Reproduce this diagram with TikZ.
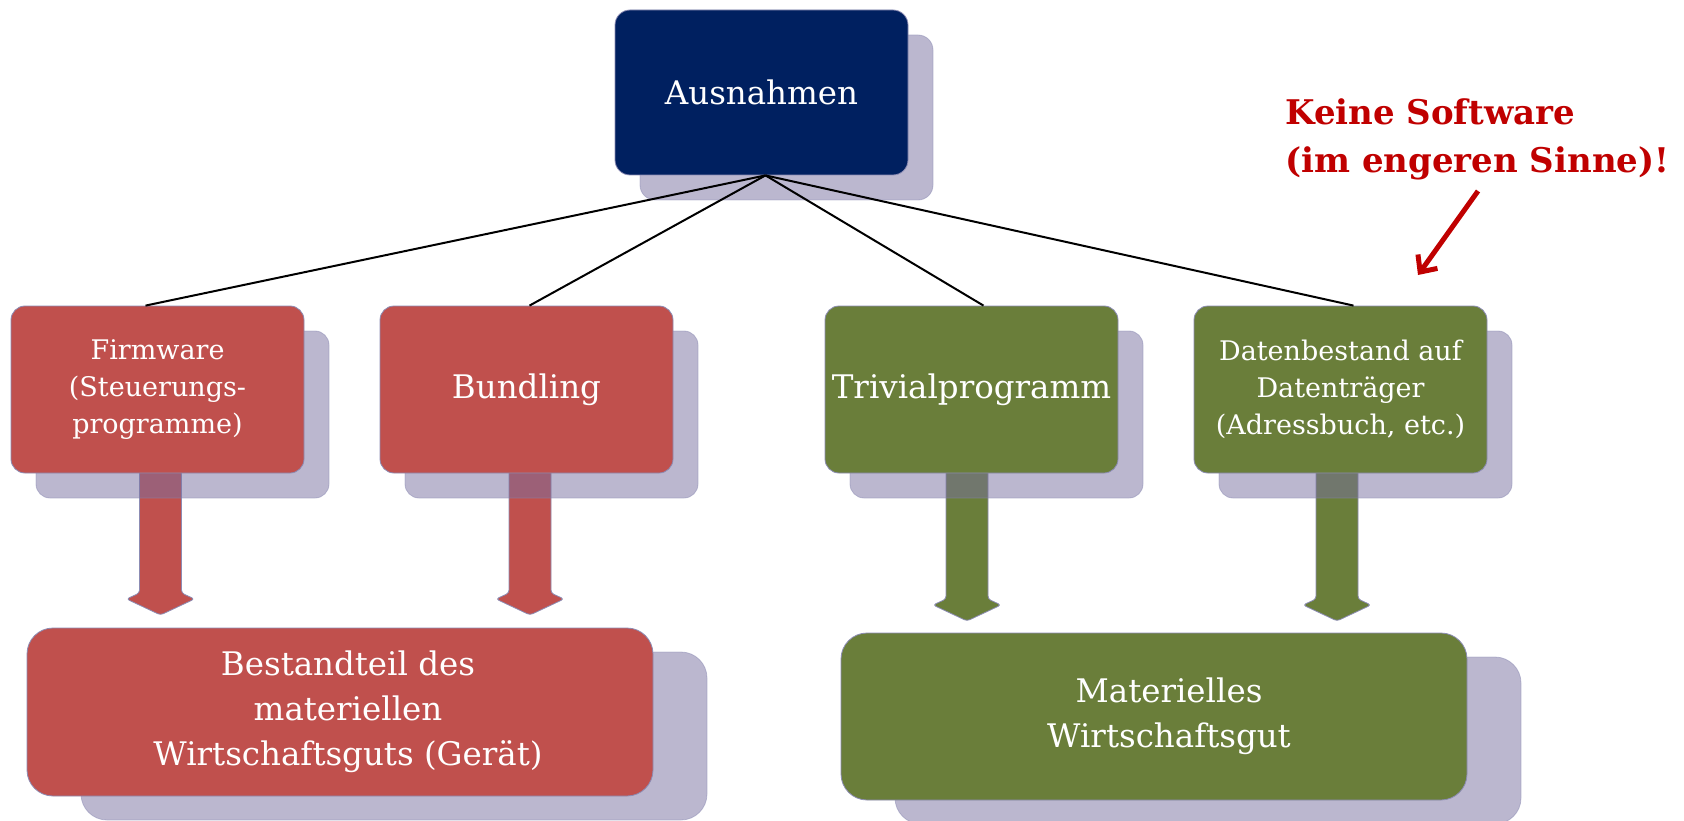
\documentclass[tikz,border=0pt]{standalone}
\usepackage{fontspec}
\setmainfont{DejaVu Serif}
\usetikzlibrary{shadows,backgrounds,arrows.meta}
\definecolor{navy}{RGB}{0,32,96}
\definecolor{boxred}{RGB}{192,80,77}
\definecolor{boxgreen}{RGB}{106,126,58}
\definecolor{shadowc}{RGB}{121,113,161}
\definecolor{bordc}{RGB}{140,140,180}
\definecolor{notered}{RGB}{192,0,0}
\tikzset{
  box/.style={draw=bordc, line width=0.8pt, rounded corners=14pt, text=white, align=center,
    inner sep=0pt, minimum width=293pt, minimum height=167pt, font=\fontsize{32.5}{40}\selectfont},
  shad/.style={drop shadow={shadow xshift=25pt, shadow yshift=-25pt, fill=shadowc, draw=bordc, opacity=0.5}},
  bigshad/.style={drop shadow={shadow xshift=54pt, shadow yshift=-24pt, fill=shadowc, draw=bordc, opacity=0.5}},
  smalltext/.style={font=\fontsize{27}{37}\selectfont},
  bottomtext/.style={font=\fontsize{32.5}{45}\selectfont},
  link/.style={line width=2pt, black},
  blockarrow/.style={line width=0.8pt, draw=bordc, rounded corners=3pt},
}
\begin{document}
\begin{tikzpicture}[x=1pt,y=-1pt]
\useasboundingbox (0,0) rectangle (1684,821);
\begin{scope}[on background layer]
  \fill[white] (0,0) rectangle (1684,821);
\end{scope}

% nodes
\node[box, shad, fill=navy, minimum height=165pt, rounded corners=15pt] (top) at (761.5,92.5) {Ausnahmen};
\node[box, shad, fill=boxred, smalltext] (fw) at (157.5,389.5) {Firmware\\(Steuerungs-\\programme)};
\node[box, shad, fill=boxred] (bd) at (526.5,389.5) {Bundling};
\node[box, shad, fill=boxgreen] (tp) at (971.5,389.5) {Trivialprogramm};
\node[box, shad, fill=boxgreen, smalltext] (db) at (1340.5,389.5) {Datenbestand auf\\Datenträger\\(Adressbuch, etc.)};
\node[box, bigshad, fill=boxred, bottomtext, minimum width=626pt, minimum height=168pt, rounded corners=26pt] (bl) at (340,712)
  {\hspace*{16pt}Bestandteil des\\\hspace*{16pt}materiellen\\\hspace*{16pt}Wirtschaftsguts (Gerät)};
\node[box, bigshad, fill=boxgreen, bottomtext, minimum width=626pt, minimum height=167pt, rounded corners=26pt] (br) at (1154,716.5)
  {\hspace*{30pt}Materielles\\\hspace*{30pt}Wirtschaftsgut};

% block arrows behind shadows
\begin{scope}[on background layer]
  \foreach \n/\dx/\sl/\col in {fw/3/203.5/boxred, bd/3.5/203.5/boxred, tp/-4.5/209.5/boxgreen, db/-3.5/209.5/boxgreen} {
    \draw[blockarrow, fill=\col] ([xshift=\dx pt]\n.center) ++(-21,0) -- ++(0,\sl) -- ++(-13,6) -- ++(34,16)
      -- ++(34,-16) -- ++(-13,-6) -- ++(0,-\sl) -- cycle;
  }
\end{scope}

% connectors
\draw[link] ([xshift=4pt]top.south) -- ([xshift=-12pt]fw.north);
\draw[link] ([xshift=4pt]top.south) -- ([xshift=3pt]bd.north);
\draw[link] ([xshift=4pt]top.south) -- ([xshift=12pt]tp.north);
\draw[link] ([xshift=4pt]top.south) -- ([xshift=13pt]db.north);

% note
\node[font=\bfseries\fontsize{34}{48}\selectfont, text=notered, align=left, anchor=west, inner sep=0pt] (note) at (1285,139) {Keine Software\\(im engeren Sinne)!};
\coordinate (ra) at (1478,191);
\coordinate (rb) at (1418,275);
\draw[notered, line width=5pt, -{Straight Barb[length=13pt,width=24pt]}] (ra) -- (rb);
\end{tikzpicture}
\end{document}
